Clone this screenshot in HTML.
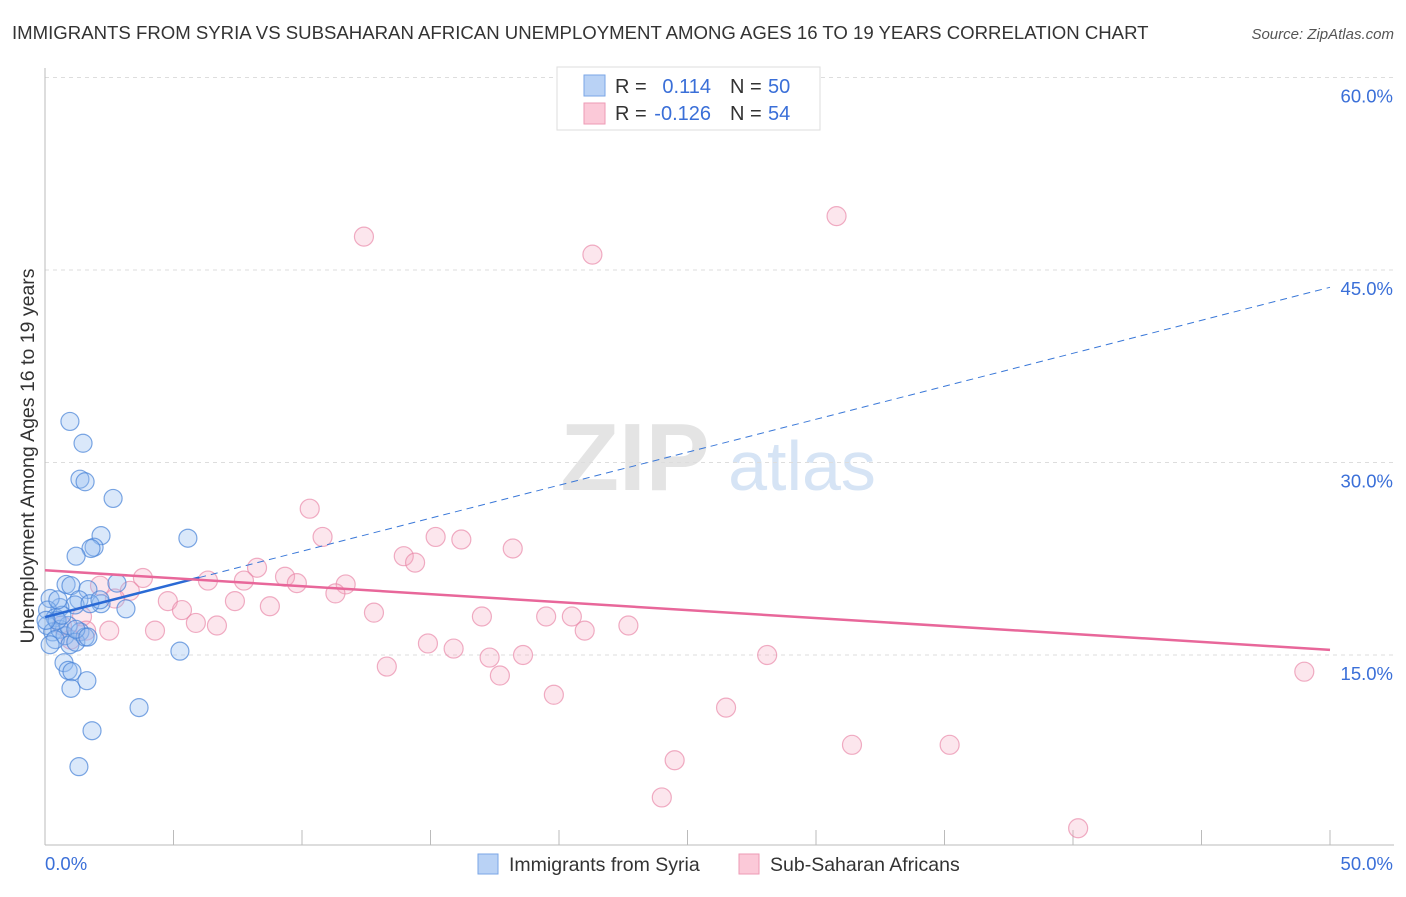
<!DOCTYPE html>
<html><head><meta charset="utf-8"><style>
body{margin:0;background:#fff;font-family:"Liberation Sans",sans-serif;}
svg text{font-family:"Liberation Sans",sans-serif;}
</style></head><body>
<svg id="chart" width="1406" height="892" viewBox="0 0 1406 892">
<text x="12" y="39" font-size="18.6" fill="#333">IMMIGRANTS FROM SYRIA VS SUBSAHARAN AFRICAN UNEMPLOYMENT AMONG AGES 16 TO 19 YEARS CORRELATION CHART</text>
<text x="1394" y="39" font-size="15" fill="#555" font-style="italic" text-anchor="end">Source: ZipAtlas.com</text>
<g>
<text x="635" y="490" font-size="96" fill="#e4e4e4" text-anchor="middle" font-family="Liberation Serif" font-weight="bold">ZIP</text>
<text x="802" y="490" font-size="70" fill="#d6e4f5" text-anchor="middle">atlas</text>
</g>
<g id="grid"></g>
<g id="axes"></g>
<g id="marks"></g>
<text transform="translate(34,456) rotate(-90)" font-size="19.5" fill="#333" text-anchor="middle">Unemployment Among Ages 16 to 19 years</text>
<g>
<rect x="557" y="67" width="263" height="63" fill="#fff" stroke="#ddd"/>
<rect x="584" y="75" width="21" height="21" fill="#b9d2f5" stroke="#7aa6e6"/>
<rect x="584" y="103" width="21" height="21" fill="#fbc9d8" stroke="#ee9ab5"/>
<text x="615" y="93" font-size="20" fill="#333">R =</text>
<text x="711" y="93" font-size="20" fill="#3a6fd8" text-anchor="end">0.114</text>
<text x="730" y="93" font-size="20" fill="#333">N =</text>
<text x="768" y="93" font-size="20" fill="#3a6fd8">50</text>
<text x="615" y="120" font-size="20" fill="#333">R =</text>
<text x="711" y="120" font-size="20" fill="#3a6fd8" text-anchor="end">-0.126</text>
<text x="730" y="120" font-size="20" fill="#333">N =</text>
<text x="768" y="120" font-size="20" fill="#3a6fd8">54</text>
</g>
<g>
<rect x="478" y="854" width="20" height="20" fill="#b9d2f5" stroke="#7aa6e6"/>
<text x="509" y="871" font-size="19.5" fill="#333">Immigrants from Syria</text>
<rect x="739" y="854" width="20" height="20" fill="#fbc9d8" stroke="#ee9ab5"/>
<text x="770" y="871" font-size="19.5" fill="#333">Sub-Saharan Africans</text>
</g>
</svg>
<script>
const yTicks=[15,30,45,60];
const yTickLabels=["15.0%","30.0%","45.0%","60.0%"];
const xTickLabels=["0.0%","50.0%"];
const blueX=[0.97,1.48,1.36,1.56,2.65,2.18,1.91,1.79,1.21,5.56,0.82,1.01,1.67,2.8,1.32,2.18,1.17,3.15,0.58,0.2,0.1,0.4,0.08,0.3,0.58,0.78,0.4,0.97,0.9,1.36,1.2,1.56,1.2,0.74,0.9,1.05,1.63,1.01,5.25,3.66,1.83,1.32,1.75,0.47,0.66,0.04,2.14,0.5,1.67,0.2];
const blueY=[33.2,31.5,28.7,28.5,27.2,24.3,23.4,23.3,22.7,24.1,20.5,20.4,20.1,20.6,19.3,19.0,18.9,18.6,18.7,19.4,18.5,17.9,17.3,16.8,17.0,16.5,16.2,15.8,17.3,16.8,16.0,16.4,17.0,14.4,13.8,13.7,13.0,12.4,15.3,10.9,9.1,6.3,19.0,17.7,18.1,17.7,19.3,19.3,16.4,15.8];
const pinkX=[12.41,21.3,30.8,10.3,10.8,15.2,16.2,18.2,13.96,14.4,8.25,9.34,3.81,6.34,7.74,9.8,11.7,3.3,11.3,4.78,7.39,8.75,5.33,12.8,17.0,19.5,20.5,22.7,5.87,6.69,4.28,21.0,14.9,15.9,17.3,18.6,28.1,13.3,17.7,19.8,26.5,31.4,35.2,24.5,24.0,40.2,49.0,1.44,2.14,1.0,0.66,1.6,2.72,2.5];
const pinkY=[47.6,46.2,49.2,26.4,24.2,24.2,24.0,23.3,22.7,22.2,21.8,21.1,21.0,20.8,20.8,20.6,20.5,20.0,19.8,19.2,19.2,18.8,18.5,18.3,18.0,18.0,18.0,17.3,17.5,17.3,16.9,16.9,15.9,15.5,14.8,15.0,15.0,14.1,13.4,11.9,10.9,8.0,8.0,6.8,3.9,1.5,13.7,18.0,20.4,16.2,17.3,16.9,19.4,16.9];
const blueTrend=[17.95,43.65];
const pinkTrend=[21.6,15.4];
const blueSolidEnd=6.0;

const NS="http://www.w3.org/2000/svg";
const X=v=>45+v/50*1285;
const Y=v=>847.5-v/15*192.5;
function mk(tag,attrs,parent){const e=document.createElementNS(NS,tag);for(const k in attrs)e.setAttribute(k,attrs[k]);parent.appendChild(e);return e;}
const grid=document.getElementById('grid'),axes=document.getElementById('axes'),marks=document.getElementById('marks');
yTicks.forEach((t,i)=>{
  const l=mk('line',{x1:45,x2:1394,y1:Y(t),y2:Y(t),stroke:'#ddd','stroke-dasharray':'4,4'},grid);
  
  
  const tx=mk('text',{x:1393,y:Y(t)+25,'font-size':18.5,fill:'#3a6fd8','text-anchor':'end'},axes);
  tx.textContent=yTickLabels[i];
  
  
});
const xa=mk('line',{x1:45,x2:1394,y1:845,y2:845,stroke:'#bbb'},axes);


const ya=mk('line',{x1:45,x2:45,y1:68,y2:845,stroke:'#bbb'},axes);


for(let i=0;i<=10;i++){
  const t=mk('line',{x1:X(i*5),x2:X(i*5),y1:830,y2:845,stroke:'#bbb'},axes);
  
  
}
[[0,'start',45],[50,'end',1393]].forEach((d,i)=>{
  const tx=mk('text',{x:d[2],y:870,'font-size':18.5,fill:'#3a6fd8','text-anchor':d[1]},axes);
  tx.textContent=xTickLabels[i];
  
  
});
pinkX.forEach((x,i)=>{
  const c=mk('circle',{cx:X(x),cy:Y(pinkY[i]),r:9.5,fill:'rgba(246,165,190,0.28)',stroke:'rgba(232,130,165,0.65)','stroke-width':1.2},marks);
  
  
});
blueX.forEach((x,i)=>{
  const c=mk('circle',{cx:X(x),cy:Y(blueY[i]),r:9,fill:'rgba(150,190,240,0.35)',stroke:'rgba(70,130,215,0.7)','stroke-width':1.2},marks);
  
  
});
const bt=x=>blueTrend[0]+(blueTrend[1]-blueTrend[0])*x/50;
const bd=mk('line',{x1:X(blueSolidEnd),y1:Y(bt(blueSolidEnd)),x2:X(50),y2:Y(bt(50)),stroke:'#3a78d8','stroke-width':1,'stroke-dasharray':'7,5'},marks);


const bs=mk('line',{x1:X(0),y1:Y(bt(0)),x2:X(blueSolidEnd),y2:Y(bt(blueSolidEnd)),stroke:'#2a6ad5','stroke-width':2.5},marks);


const pl=mk('line',{x1:X(0),y1:Y(pinkTrend[0]),x2:X(50),y2:Y(pinkTrend[1]),stroke:'#e8679a','stroke-width':2.5},marks);


</script>
</body></html>
